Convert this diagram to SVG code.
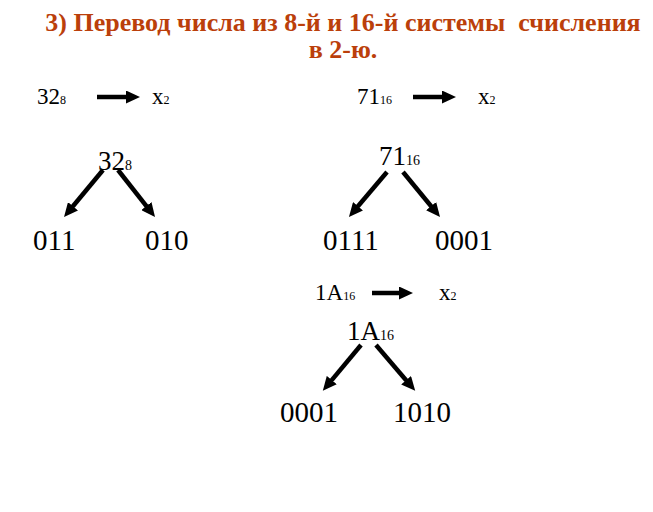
<svg xmlns="http://www.w3.org/2000/svg" width="653" height="512" viewBox="0 0 653 512">
<defs>
<style>
.t{font-family:"Liberation Serif","Times New Roman",serif;fill:#000}
.h{font-family:"Liberation Serif","Times New Roman",serif;font-weight:bold;fill:#BB3F0B;font-size:26px}
.a{stroke:#000;stroke-width:4.5;fill:none}
</style>
<marker id="ah" viewBox="0 0 14 13" refX="2" refY="6.5" markerWidth="14" markerHeight="13" orient="auto" markerUnits="userSpaceOnUse">
<path d="M0,0 L14,6.5 L0,13 z" fill="#000"/>
</marker>
</defs>
<rect width="653" height="512" fill="#fff"/>
<g id="title">
<text class="h" x="343" y="31" text-anchor="middle" xml:space="preserve">3) Перевод числа из 8-й и 16-й системы  счисления</text>
<text class="h" x="343" y="58" text-anchor="middle">в 2-ю.</text>
</g>
<g id="row1-left">
<text class="t" x="37" y="104" font-size="23">32<tspan font-size="12">8</tspan></text>
<text class="t" x="152" y="104" font-size="23">x<tspan font-size="12">2</tspan></text>
</g>
<g id="row1-right">
<text class="t" x="357" y="104" font-size="23">71<tspan font-size="12">16</tspan></text>
<text class="t" x="478" y="104" font-size="23">x<tspan font-size="12">2</tspan></text>
</g>
<g id="tree1-root"><text class="t" x="98" y="170" font-size="27">32<tspan font-size="14">8</tspan></text></g>
<g id="tree1-l"><text class="t" x="33" y="250" font-size="29">011</text></g>
<g id="tree1-r"><text class="t" x="145" y="250" font-size="29">010</text></g>
<g id="tree2-root"><text class="t" x="379" y="165" font-size="27">71<tspan font-size="14">16</tspan></text></g>
<g id="tree2-l"><text class="t" x="323" y="250" font-size="29">0111</text></g>
<g id="tree2-r"><text class="t" x="435" y="250" font-size="29">0001</text></g>
<g id="row3">
<text class="t" x="315" y="300" font-size="23">1A<tspan font-size="12">16</tspan></text>
<text class="t" x="439" y="300" font-size="23">x<tspan font-size="12">2</tspan></text>
</g>
<g id="tree3-root"><text class="t" x="347" y="340" font-size="27">1A<tspan font-size="14">16</tspan></text></g>
<g id="tree3-l"><text class="t" x="280" y="422" font-size="29">0001</text></g>
<g id="tree3-r"><text class="t" x="393" y="422" font-size="29">1010</text></g>
<g id="connectors">
<line class="a" x1="97" y1="97" x2="128" y2="97" marker-end="url(#ah)"/>
<line class="a" x1="413" y1="97" x2="444" y2="97" marker-end="url(#ah)"/>
<line class="a" x1="103" y1="170" x2="71.7" y2="207.8" marker-end="url(#ah)"/>
<line class="a" x1="118" y1="170" x2="147.6" y2="207.6" marker-end="url(#ah)"/>
<line class="a" x1="387" y1="172" x2="356.7" y2="207.8" marker-end="url(#ah)"/>
<line class="a" x1="403" y1="172" x2="432.4" y2="207.7" marker-end="url(#ah)"/>
<line class="a" x1="372" y1="293" x2="401" y2="293" marker-end="url(#ah)"/>
<line class="a" x1="361" y1="345" x2="330.5" y2="381.6" marker-end="url(#ah)"/>
<line class="a" x1="376" y1="345" x2="407.4" y2="381.7" marker-end="url(#ah)"/>
</g>
</svg>
